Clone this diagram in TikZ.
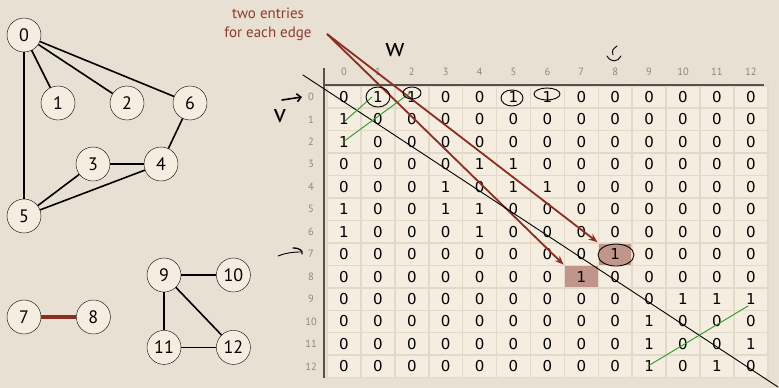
\documentclass[tikz,border=0pt]{standalone}
\usepackage{fontspec}
\setmainfont{PT Sans}
\newfontfamily\cellfont{DejaVu Sans}
\usetikzlibrary{arrows.meta, positioning, calc}

\definecolor{paper}{HTML}{E8E0D2}
\definecolor{cream}{HTML}{F5EDE0}
\definecolor{gridline}{HTML}{E2D9CA}
\definecolor{hilite}{HTML}{C0968A}
\definecolor{brick}{HTML}{8B2E22}
\definecolor{labelred}{HTML}{8E3B30}
\definecolor{pen}{HTML}{2A9A2A}
\definecolor{axisgray}{HTML}{55524E}
\definecolor{idxgray}{HTML}{8C8782}

\begin{document}
\begin{tikzpicture}[x=1pt, y=-1pt,
        vertex/.style={draw, circle, fill=cream, minimum size=34pt, inner sep=0pt, font=\fontsize{18}{20}\selectfont},
        link/.style={line width=1.6pt},
        cell/.style={draw=gridline, line width=1.5pt, fill=cream, minimum width=33.9pt, minimum height=22.45pt, inner sep=0pt, font=\cellfont\fontsize{15}{17}\selectfont},
        hot 7-8/.style={fill=hilite},
        hot 8-7/.style={fill=hilite},
        idx/.style={text=idxgray, font=\fontsize{10.5}{12}\selectfont},
        axis/.style={draw=axisgray, line width=1.2pt},
        arr/.style={-{Stealth[length=9pt,width=7pt]}, brick, line width=1.8pt},
        scribble/.style={line width=0.9pt, line cap=round}
    ]
        \useasboundingbox (0,0) rectangle (779,388);
        \fill[paper] (0,0) rectangle (779,388);

        % adjacency matrix
        \foreach \row [count=\r from 0] in {
            {0,1,1,0,0,1,1,0,0,0,0,0,0},
            {1,0,0,0,0,0,0,0,0,0,0,0,0},
            {1,0,0,0,0,0,0,0,0,0,0,0,0},
            {0,0,0,0,1,1,0,0,0,0,0,0,0},
            {0,0,0,1,0,1,1,0,0,0,0,0,0},
            {1,0,0,1,1,0,0,0,0,0,0,0,0},
            {1,0,0,0,1,0,0,0,0,0,0,0,0},
            {0,0,0,0,0,0,0,0,1,0,0,0,0},
            {0,0,0,0,0,0,0,1,0,0,0,0,0},
            {0,0,0,0,0,0,0,0,0,0,1,1,1},
            {0,0,0,0,0,0,0,0,0,1,0,0,0},
            {0,0,0,0,0,0,0,0,0,1,0,0,1},
            {0,0,0,0,0,0,0,0,0,1,0,1,0}} {
            \foreach \v [count=\c from 0] in \row {
                \node[cell, hot \r-\c/.try] (c-\r-\c) at (344+33.9*\c, 97+22.45*\r) {\v};
            }
            \node[idx] (v\r) at (311, 97+22.45*\r) {\r};
        }
        \foreach \c in {0,...,12}
            \node[idx] (h\c) at (344+33.9*\c, 72) {\c};
        \draw[axis] (324,68) -- (324,378);
        \draw[axis] (324,85) -- (764,85);

        % graph
        \node[vertex] (n0) at (24,35) {0};
        \node[vertex] (n1) at (58,103) {1};
        \node[vertex] (n2) at (127,103) {2};
        \node[vertex] (n6) at (190,103) {6};
        \node[vertex] (n3) at (93,164) {3};
        \node[vertex] (n4) at (161,164) {4};
        \node[vertex] (n5) at (24,216) {5};
        \node[vertex] (n7) at (24,317) {7};
        \node[vertex, right=35pt of n7] (n8) {8};
        \node[vertex] (n9) at (164,275) {9};
        \node[vertex, right=35pt of n9] (n10) {10};
        \node[vertex, below=38pt of n9] (n11) {11};
        \node[vertex, right=35pt of n11] (n12) {12};
        \foreach \a/\b in {0/1, 0/2, 0/6, 0/5, 6/4, 3/4, 3/5, 4/5, 9/10, 9/11, 9/12, 11/12}
            \draw[link] (n\a) -- (n\b);
        \draw[brick, line width=4pt] (n7) -- (n8);

        % callout
        \node[text=labelred, align=center, font=\fontsize{15}{19}\selectfont] (note) at (268,24) {two entries\\for each edge};
        \coordinate (tail) at (327,34);
        \draw[arr] (tail) -- (c-7-8.north west);
        \draw[arr] (tail) -- (c-8-7.north west);

        % pen marks
        \draw[scribble] (303,75) -- (778,387);
        \draw[scribble, pen] (372,97) -- (345,121);
        \draw[scribble, pen] (410,93) -- (343,142);
        \draw[scribble, pen] (748,306) -- (648,366);
        \draw[scribble] (378,97) ellipse [x radius=12, y radius=10];
        \draw[scribble] (412,93) ellipse [x radius=9, y radius=6];
        \draw[scribble] (512,98) ellipse [x radius=11, y radius=8];
        \draw[scribble] (547,94) ellipse [x radius=13, y radius=6];
        \draw[scribble] (616,255) ellipse [x radius=18, y radius=11];
        \draw[scribble, line width=1.6pt, -{Straight Barb[length=4pt]}] (282,100) -- (302,97);
        \draw[scribble] (278,256) .. controls (285,253) and (293,252) .. (301,252);
        \draw[scribble, line width=1.3pt] (293,248) .. controls (300,248) and (303,251) .. (302,254);
        \draw[scribble] (617,46) .. controls (612,50) .. (613,55);
        \draw[scribble] (607,56) .. controls (611,63) and (618,62) .. (621,56);
        \node[font=\fontsize{26}{26}\selectfont] (w) at (395,50) {w};
        \node[font=\fontsize{26}{26}\selectfont] (v) at (280,116) {v};
    \end{tikzpicture}
\end{document}
